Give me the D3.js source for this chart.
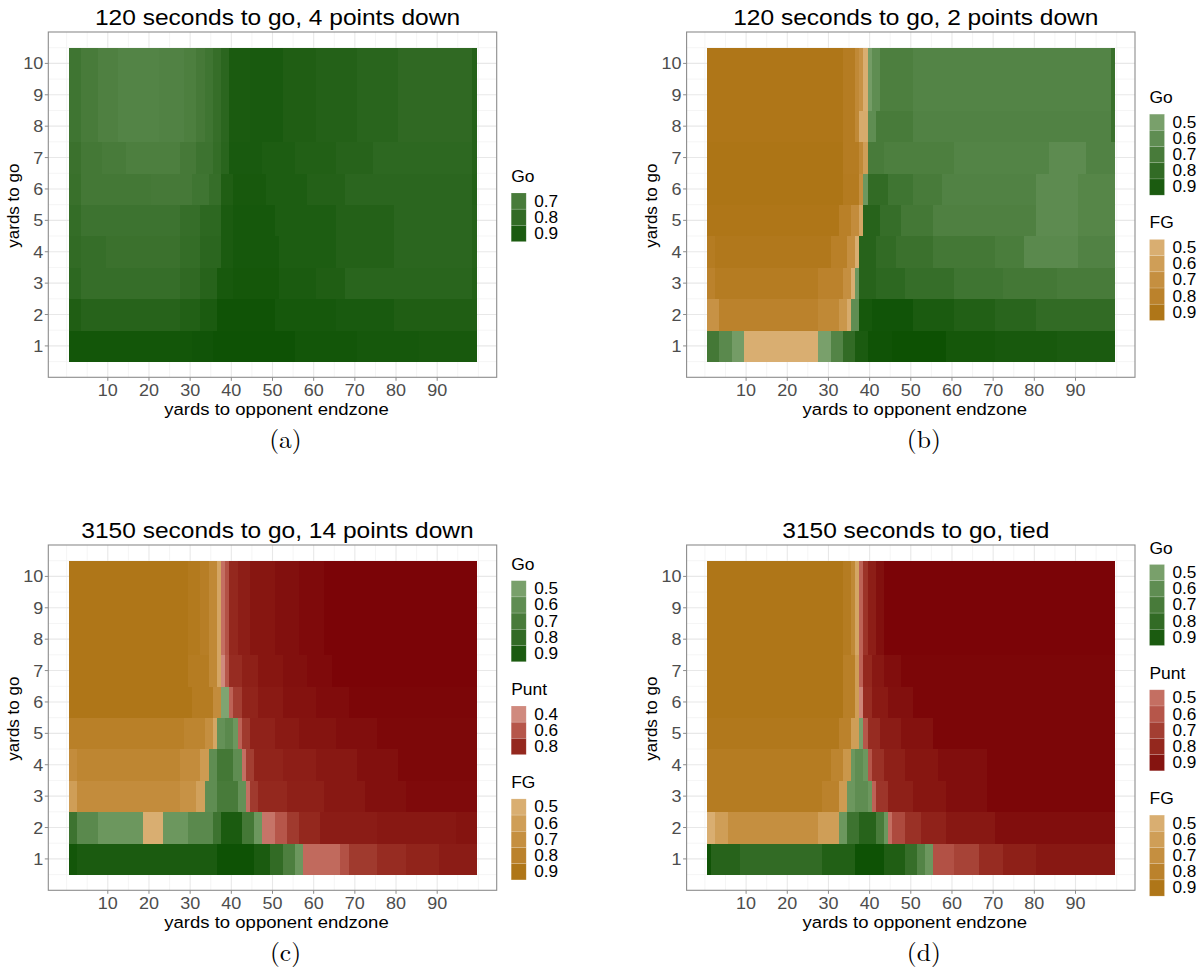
<!DOCTYPE html>
<html><head><meta charset="utf-8">
<script src="https://cdn.jsdelivr.net/npm/d3@7/dist/d3.min.js"></script>
<style>body{margin:0;background:#fff}svg{display:block}</style>
</head><body>
<svg id="chart" width="1204" height="975"></svg>
<script>
// ---------- DATA ----------
const titles = ["120 seconds to go, 4 points down","120 seconds to go, 2 points down","3150 seconds to go, 14 points down","3150 seconds to go, tied"];
const captions = ["(a)","(b)","(c)","(d)"];
const xTicks = [10,20,30,40,50,60,70,80,90];
const yTicks = [1,2,3,4,5,6,7,8,9,10];
const decisionNames = {G:"Go", P:"Punt", F:"FG"};
const legendA = [["G",[0.7,0.8,0.9]]];
const legendB = [["G",[0.5,0.6,0.7,0.8,0.9]],["F",[0.5,0.6,0.7,0.8,0.9]]];
const legendC = [["G",[0.5,0.6,0.7,0.8,0.9]],["P",[0.4,0.6,0.8]],["F",[0.5,0.6,0.7,0.8,0.9]]];
const legendD = [["G",[0.5,0.6,0.7,0.8,0.9]],["P",[0.5,0.6,0.7,0.8,0.9]],["F",[0.5,0.6,0.7,0.8,0.9]]];

// rows: yards to go 1..10 ; segments [decision, fromYard, toYard, probability]
const rowA8 = [["G",1,3,.74],["G",4,7,.7],["G",8,12,.67],["G",13,22,.65],["G",23,28,.66],["G",29,31,.68],["G",32,33,.71],["G",34,35,.74],["G",36,37,.78],["G",38,39,.83],["G",40,44,.9],["G",45,52,.91],["G",53,60,.88],["G",61,70,.86],["G",71,80,.84],["G",81,98,.81],["G",99,99,.86]];
const panelA = [
 [["G",1,30,.95],["G",31,35,.96],["G",36,55,.98],["G",56,70,.95],["G",71,85,.93],["G",86,99,.92]],
 [["G",1,3,.88],["G",4,27,.85],["G",28,32,.87],["G",33,36,.9],["G",37,50,.97],["G",51,65,.93],["G",66,79,.91],["G",80,99,.88]],
 [["G",1,3,.82],["G",4,27,.78],["G",28,32,.81],["G",33,36,.85],["G",37,40,.92],["G",41,51,.94],["G",52,60,.9],["G",61,67,.88],["G",68,98,.84],["G",99,99,.87]],
 [["G",1,3,.8],["G",4,9,.78],["G",10,27,.76],["G",28,32,.79],["G",33,37,.83],["G",38,40,.9],["G",41,51,.93],["G",52,65,.89],["G",66,79,.86],["G",80,98,.83],["G",99,99,.86]],
 [["G",1,3,.79],["G",4,27,.75],["G",28,32,.78],["G",33,37,.82],["G",38,40,.9],["G",41,50,.93],["G",51,65,.89],["G",66,79,.86],["G",80,98,.83],["G",99,99,.86]],
 [["G",1,3,.77],["G",4,20,.72],["G",21,30,.71],["G",31,34,.74],["G",35,37,.78],["G",38,40,.88],["G",41,48,.92],["G",49,58,.89],["G",59,67,.86],["G",68,98,.83],["G",99,99,.87]],
 [["G",1,3,.76],["G",4,8,.72],["G",9,14,.7],["G",15,27,.68],["G",28,31,.71],["G",32,35,.75],["G",36,37,.79],["G",38,39,.84],["G",40,47,.91],["G",48,55,.89],["G",56,65,.87],["G",66,74,.85],["G",75,98,.82],["G",99,99,.86]],
 rowA8, rowA8, rowA8
];
const rowB9 = [["F",1,33,.9],["F",34,36,.85],["F",37,37,.75],["F",38,38,.68],["F",39,39,.5],["G",40,40,.52],["G",41,42,.6],["G",43,50,.68],["G",51,98,.65],["G",99,99,.77]];
const panelB = [
 [["G",1,3,.72],["G",4,6,.62],["G",7,9,.52],["F",10,27,.5],["G",28,30,.5],["G",31,33,.65],["G",34,36,.8],["G",37,39,.9],["G",40,45,.97],["G",46,58,.99],["G",59,70,.94],["G",71,85,.92],["G",86,99,.9]],
 [["F",1,3,.68],["F",4,27,.8],["F",28,32,.75],["F",33,34,.65],["F",35,35,.52],["G",36,37,.6],["G",38,40,.93],["G",41,50,.96],["G",51,60,.9],["G",61,70,.87],["G",71,80,.84],["G",81,99,.8]],
 [["F",1,2,.8],["F",3,27,.85],["F",28,33,.8],["F",34,35,.7],["F",36,36,.5],["G",37,37,.55],["G",38,41,.85],["G",42,48,.82],["G",49,60,.78],["G",61,72,.74],["G",73,85,.72],["G",86,99,.7]],
 [["F",1,2,.85],["F",3,30,.88],["F",31,34,.82],["F",35,36,.7],["F",37,37,.5],["G",38,41,.85],["G",42,46,.8],["G",47,55,.76],["G",56,70,.72],["G",71,77,.69],["G",78,90,.62],["G",91,99,.66]],
 [["F",1,32,.9],["F",33,35,.82],["F",36,37,.72],["F",38,38,.55],["G",39,42,.85],["G",43,47,.78],["G",48,55,.72],["G",56,80,.67],["G",81,90,.61],["G",91,99,.64]],
 [["F",1,33,.92],["F",34,37,.86],["F",38,38,.7],["G",39,39,.55],["G",40,44,.8],["G",45,50,.74],["G",51,57,.7],["G",58,80,.66],["G",81,90,.61],["G",91,99,.64]],
 [["F",1,33,.92],["F",34,37,.85],["F",38,38,.75],["F",39,39,.6],["G",40,43,.7],["G",44,60,.68],["G",61,83,.65],["G",84,92,.61],["G",93,99,.66]],
 [["F",1,33,.9],["F",34,36,.85],["F",37,37,.75],["F",38,39,.52],["G",40,41,.6],["G",42,50,.7],["G",51,98,.66],["G",99,99,.76]],
 rowB9, rowB9
];
const rowC8 = [["F",1,29,.9],["F",30,32,.87],["F",33,34,.83],["F",35,36,.75],["F",37,37,.55],["P",38,38,.5],["P",39,39,.62],["P",40,41,.8],["P",42,44,.85],["P",45,50,.89],["P",51,56,.92],["P",57,62,.95],["P",63,99,.98]];
const panelC = [
 [["G",1,2,.95],["G",3,36,.9],["G",37,45,.98],["G",46,49,.9],["G",50,52,.8],["G",53,55,.68],["G",56,57,.55],["P",58,66,.52],["P",67,68,.62],["P",69,75,.72],["P",76,82,.78],["P",83,90,.82],["P",91,99,.86]],
 [["G",1,2,.75],["G",3,7,.62],["G",8,18,.55],["F",19,23,.5],["G",24,29,.55],["G",30,35,.62],["G",36,37,.75],["G",38,42,.9],["G",43,45,.72],["G",46,47,.55],["P",48,50,.48],["P",51,53,.6],["P",54,56,.72],["P",57,61,.8],["P",62,75,.86],["P",76,94,.88],["P",95,99,.9]],
 [["F",1,2,.6],["F",3,27,.72],["F",28,31,.68],["F",32,33,.58],["G",34,36,.6],["G",37,41,.7],["G",42,43,.58],["P",44,44,.5],["P",45,46,.72],["P",47,53,.8],["P",54,62,.84],["P",63,72,.88],["P",73,82,.92],["P",83,99,.95]],
 [["F",1,2,.72],["F",3,27,.77],["F",28,32,.72],["F",33,34,.62],["G",35,36,.6],["G",37,40,.72],["G",41,42,.6],["P",43,43,.5],["P",44,45,.7],["P",46,52,.82],["P",53,60,.85],["P",61,70,.88],["P",71,80,.92],["P",81,99,.96]],
 [["F",1,28,.82],["F",29,33,.78],["F",34,35,.7],["F",36,36,.55],["G",37,38,.58],["G",39,40,.62],["G",41,41,.55],["P",42,42,.55],["P",43,44,.72],["P",45,50,.83],["P",51,56,.87],["P",57,65,.9],["P",66,75,.93],["P",76,99,.96]],
 [["F",1,30,.9],["F",31,35,.85],["F",36,37,.72],["G",38,39,.48],["P",40,40,.55],["P",41,42,.7],["P",43,46,.82],["P",47,52,.87],["P",53,60,.91],["P",61,68,.94],["P",69,99,.97]],
 [["F",1,29,.9],["F",30,34,.85],["F",35,36,.75],["F",37,37,.55],["P",38,38,.38],["P",39,39,.6],["P",40,42,.78],["P",43,46,.84],["P",47,52,.89],["P",53,58,.92],["P",59,64,.95],["P",65,99,.98]],
 rowC8, rowC8, rowC8
];
const rowD8 = [["F",1,33,.9],["F",34,35,.85],["F",36,36,.75],["F",37,37,.55],["P",38,38,.55],["P",39,39,.75],["P",40,41,.85],["P",42,43,.92],["P",44,99,.98]];
const panelD = [
 [["G",1,1,.97],["G",2,8,.85],["G",9,28,.8],["G",29,36,.87],["G",37,43,.98],["G",44,48,.88],["G",49,51,.78],["G",52,53,.65],["G",54,55,.55],["P",56,60,.62],["P",61,66,.68],["P",67,72,.78],["P",73,80,.84],["P",81,99,.88]],
 [["F",1,2,.5],["F",3,5,.6],["F",6,27,.7],["F",28,32,.6],["G",33,34,.55],["G",35,37,.75],["G",38,41,.85],["G",42,43,.7],["G",44,44,.55],["P",45,45,.5],["P",46,48,.65],["P",49,52,.76],["P",53,58,.83],["P",59,70,.88],["P",71,99,.93]],
 [["F",1,28,.85],["F",29,32,.8],["F",33,34,.62],["G",35,36,.55],["G",37,39,.6],["G",40,40,.55],["P",41,41,.55],["P",42,44,.74],["P",45,50,.84],["P",51,58,.89],["P",59,68,.93],["P",69,99,.97]],
 [["F",1,30,.85],["F",31,33,.78],["F",34,35,.65],["G",36,36,.55],["G",37,38,.6],["G",39,39,.55],["P",40,40,.6],["P",41,43,.76],["P",44,48,.84],["P",49,56,.89],["P",57,68,.93],["P",69,99,.97]],
 [["F",1,32,.88],["F",33,35,.8],["F",36,37,.6],["G",38,38,.5],["P",39,39,.6],["P",40,42,.78],["P",43,47,.86],["P",48,55,.91],["P",56,99,.97]],
 [["F",1,33,.9],["F",34,36,.82],["F",37,37,.6],["P",38,38,.42],["P",39,40,.78],["P",41,44,.87],["P",45,50,.92],["P",51,99,.97]],
 [["F",1,33,.9],["F",34,36,.82],["F",37,37,.6],["P",38,38,.55],["P",39,40,.8],["P",41,43,.88],["P",44,47,.93],["P",48,99,.97]],
 rowD8, rowD8, rowD8
];

// ---------- STYLE / LAYOUT ----------
const colorStops = [0.4,0.5,0.6,0.7,0.8,0.9,1.0];
const colorRanges = {
  G: ["#95b58a","#79a06b","#5f8d52","#487b3a","#326b25","#1b5b10","#0b5002"],
  F: ["#e2bf8e","#d9ae71","#cf9e57","#c58f40","#bb822c","#af7618","#a57010"],
  P: ["#d08a7e","#c46f62","#b6564a","#a33e32","#94281e","#851410","#780005"]
};
const colorScale = {};
for (const k in colorRanges) colorScale[k] = d3.scaleLinear().domain(colorStops).range(colorRanges[k]).clamp(true);

const SX = 1.09;            // horizontal glyph stretch of the reference
const PW = 448.4, PH = 345.3;
const panels = [
  {x0:48.3, y0:32, data:panelA, legend:legendA},
  {x0:686.6, y0:32, data:panelB, legend:legendB},
  {x0:48.3, y0:545, data:panelC, legend:legendC},
  {x0:686.6, y0:545, data:panelD, legend:legendD}
];
const FONT = "'Liberation Sans', Arial, Helvetica, sans-serif";

const svg = d3.select("#chart");
function txt(g, x, y, s, o) {
  o = o || {};
  return g.append("text")
    .attr("transform", `translate(${x},${y}) ${o.rot ? "rotate(" + o.rot + ")" : ""} scale(${o.sx || SX},1)`)
    .attr("text-anchor", o.anchor || "start")
    .attr("font-family", o.family || FONT)
    .attr("font-size", o.size || 16)
    .attr("fill", o.fill || "#000")
    .text(s);
}

const xs = d3.scaleLinear().domain([-4.45, 104.45]).range([0, PW]);
const ys = d3.scaleLinear().domain([0, 11]).range([PH, 0]);

panels.forEach((p, pi) => {
  const g = svg.append("g").attr("transform", `translate(${p.x0},${p.y0})`);
  // grid
  const minorX = [0,5,15,25,35,45,55,65,75,85,95,100];
  const minorY = d3.range(0.5, 11, 1);
  g.selectAll(".mgx").data(minorX).join("line")
    .attr("x1", d => xs(d)).attr("x2", d => xs(d)).attr("y1", 0).attr("y2", PH)
    .attr("stroke", "#f2f2f2").attr("stroke-width", 0.8);
  g.selectAll(".mgy").data(minorY).join("line")
    .attr("y1", d => ys(d)).attr("y2", d => ys(d)).attr("x1", 0).attr("x2", PW)
    .attr("stroke", "#f2f2f2").attr("stroke-width", 0.8);
  g.selectAll(".Mgx").data(xTicks).join("line")
    .attr("x1", d => xs(d)).attr("x2", d => xs(d)).attr("y1", 0).attr("y2", PH)
    .attr("stroke", "#e8e8e8").attr("stroke-width", 1.1);
  g.selectAll(".Mgy").data(yTicks).join("line")
    .attr("y1", d => ys(d)).attr("y2", d => ys(d)).attr("x1", 0).attr("x2", PW)
    .attr("stroke", "#e8e8e8").attr("stroke-width", 1.1);

  // tiles
  const segs = [];
  p.data.forEach((row, ri) => row.forEach(s => segs.push({ytg: ri + 1, dec: s[0], from: s[1], to: s[2], prob: s[3]})));
  g.append("g").selectAll("rect").data(segs).join("rect")
    .attr("x", d => xs(d.from - 0.5))
    .attr("width", d => xs(d.to + 0.5) - xs(d.from - 0.5) + 0.4)
    .attr("y", d => ys(d.ytg + 0.5))
    .attr("height", d => ys(d.ytg - 0.5) - ys(d.ytg + 0.5) + 0.4)
    .attr("fill", d => colorScale[d.dec](d.prob))
    .attr("shape-rendering", "crispEdges");

  // frame
  g.append("rect").attr("x", 0).attr("y", 0).attr("width", PW).attr("height", PH)
    .attr("fill", "none").attr("stroke", "#8c8c8c").attr("stroke-width", 1.1);

  // ticks
  g.selectAll(".tx").data(xTicks).join("line")
    .attr("x1", d => xs(d)).attr("x2", d => xs(d)).attr("y1", PH).attr("y2", PH + 3.5)
    .attr("stroke", "#8c8c8c").attr("stroke-width", 1);
  g.selectAll(".ty").data(yTicks).join("line")
    .attr("y1", d => ys(d)).attr("y2", d => ys(d)).attr("x1", 0).attr("x2", -3.5)
    .attr("stroke", "#8c8c8c").attr("stroke-width", 1);
  xTicks.forEach(v => txt(g, xs(v), PH + 18.4, String(v), {anchor: "middle", size: 16.5, fill: "#4d4d4d"}));
  yTicks.forEach(v => txt(g, -5, ys(v) + 6, String(v), {anchor: "end", size: 16.5, fill: "#4d4d4d"}));

  // titles
  txt(g, PW / 2 + 5, -7, titles[pi], {anchor: "middle", size: 22.5});
  txt(g, PW / 2 + 4, PH + 38, "yards to opponent endzone", {anchor: "middle", size: 17});
  txt(g, -29.5, PH / 2 + 1, "yards to go", {anchor: "middle", size: 17, rot: -90, sx: 1});
  txt(g, PW / 2 + 13, PH + 71, captions[pi], {anchor: "middle", size: 25, family: "'Latin Modern Roman','CMU Serif','Liberation Serif','DejaVu Serif',serif", sx: 1.02});

  // legend
  const keyH = 16.2, keyW = 15, capH = 11.3, gapT = 11, gapG = 22;
  const groupsH = p.legend.map(l => capH + gapT + l[1].length * keyH);
  const totalH = d3.sum(groupsH) + gapG * (p.legend.length - 1);
  let cy = PH / 2 + 1.5 - totalH / 2;
  const lx = PW + 14.5;
  const lg = g.append("g");
  p.legend.forEach((l, li) => {
    txt(lg, lx, cy + capH, decisionNames[l[0]], {size: 16});
    const ky = cy + capH + gapT;
    l[1].forEach((v, vi) => {
      lg.append("rect").attr("x", lx).attr("y", ky + vi * keyH).attr("width", keyW).attr("height", keyH)
        .attr("fill", colorScale[l[0]](v)).attr("stroke", "#ffffff").attr("stroke-opacity", 0.25).attr("stroke-width", 0.6);
      txt(lg, lx + keyW + 8, ky + vi * keyH + keyH / 2 + 5.4, v.toFixed(1), {size: 15.8});
    });
    cy += groupsH[li] + gapG;
  });
});
</script>
</body></html>
